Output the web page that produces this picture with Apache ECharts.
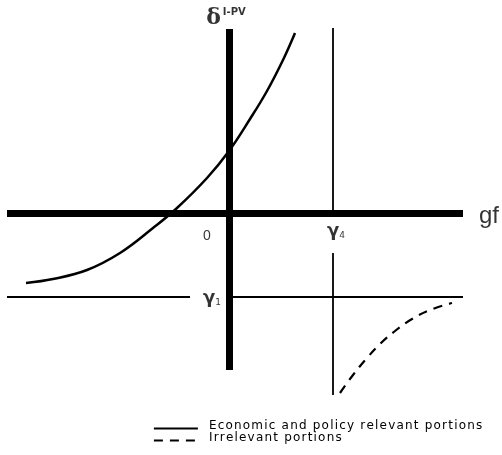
<!DOCTYPE html>
<html>
<head>
<meta charset="utf-8">
<script src="https://cdn.jsdelivr.net/npm/echarts@6/dist/echarts.min.js"></script>
<style>
  html, body { margin: 0; padding: 0; background: #fff; }
  #chart { width: 502px; height: 455px; }
</style>
</head>
<body>
<div id="chart"></div>
<script>
// Axis extents (gf horizontal, delta vertical), origin at the axis crossing
const xRange = [-222, 234];
const yRange = [-157, 184];

// Relevant branch of the delta curve
const curveX = [-203, -176, -142, -109, -76, -52, -22, 0, 21, 38, 54, 66];
const curveY = [-70, -66, -57, -40, -15, 5, 35, 62, 94, 122, 153, 180];

// Irrelevant branch right of gamma4
const dashX = [111, 124, 138, 151, 166, 183, 201, 223];
const dashY = [-180, -162, -145, -131, -118, -106, -97, -90];

// Critical values
const gamma4 = 104;   // vertical asymptote on gf
const gamma1 = -84;   // horizontal asymptote on delta

// Segments of the asymptote lines (split around their labels)
const gamma4Upper = [185, 0];
const gamma4Lower = [-40, -182];
const gamma1Left = [-222, -39];
const gamma1Right = [0, 234];

const legendNames = ['Economic and policy relevant portions', 'Irrelevant portions'];

const zip = (xs, ys) => xs.map((x, i) => [x, ys[i]]);

const thin = { color: '#000', width: 1.8 };
const plain = (data) => ({
  type: 'line', data, symbol: 'none', clip: false, silent: true,
  lineStyle: thin, itemStyle: { color: '#000' }, z: 3
});

// widely tracked legend lettering: one rich token per character
const tracked = (s) => s.split('').map(ch => '{c|' + ch + '}').join('');

const chart = echarts.init(document.getElementById('chart'));
chart.setOption({
  animation: false,
  backgroundColor: '#fff',
  grid: { left: 7, right: 39, top: 29, bottom: 85 },
  xAxis: {
    type: 'value', min: xRange[0], max: xRange[1],
    axisLine: { onZero: true, lineStyle: { color: '#000', width: 7, cap: 'butt' } },
    axisTick: { show: false }, axisLabel: { show: false }, splitLine: { show: false }
  },
  yAxis: {
    type: 'value', min: yRange[0], max: yRange[1],
    axisLine: { onZero: true, lineStyle: { color: '#000', width: 7, cap: 'butt' } },
    axisTick: { show: false }, axisLabel: { show: false }, splitLine: { show: false }
  },
  legend: {
    orient: 'vertical', left: 153, top: 420, padding: 0,
    itemWidth: 44, itemHeight: 4, itemGap: 0,
    data: legendNames,
    lineStyle: { width: 1.8 },
    itemStyle: { opacity: 0 },
    formatter: tracked,
    textStyle: {
      color: '#000', padding: [0, 0, 0, 6],
      rich: { c: { fontFamily: 'DejaVu Sans', fontSize: 12, color: '#000', padding: [0, 1.2, 5, 0] } }
    }
  },
  series: [
    {
      name: legendNames[0], type: 'line', data: zip(curveX, curveY),
      smooth: 0.4, symbol: 'none', clip: false,
      itemStyle: { color: '#000' },
      lineStyle: { color: '#000', width: 2.5 }, z: 4
    },
    {
      name: legendNames[1], type: 'line', data: zip(dashX, dashY),
      smooth: 0.4, symbol: 'none', clip: false,
      itemStyle: { color: '#000' },
      lineStyle: { color: '#000', width: 2.2, type: [9, 7] }, z: 4
    },
    plain(gamma4Upper.map(y => [gamma4, y])),
    plain(gamma4Lower.map(y => [gamma4, y])),
    plain(gamma1Left.map(x => [x, gamma1])),
    plain(gamma1Right.map(x => [x, gamma1])),
    {
      type: 'scatter', symbolSize: 0, clip: false, silent: true, z: 5,
      itemStyle: { color: '#000' },
      label: {
        show: true, position: 'inside', color: '#000', textBorderWidth: 0,
        formatter: p => p.data.text,
        rich: {
          d: { fontFamily: 'DejaVu Serif', fontWeight: 'bold', fontSize: 22, color: '#000', textBorderWidth: 0 },
          sup: { fontFamily: 'DejaVu Sans', fontWeight: 'bold', fontSize: 10, color: '#000', textBorderWidth: 0, verticalAlign: 'top', padding: [0, 0, 8, 2] },
          g: { fontFamily: 'DejaVu Sans', fontWeight: 'bold', fontSize: 18, color: '#000', textBorderWidth: 0 },
          sub: { fontFamily: 'DejaVu Sans', fontSize: 9, color: '#000', textBorderWidth: 0, padding: [10, 0, 0, 0] },
          z: { fontFamily: 'Liberation Sans', fontSize: 14, color: '#000', textBorderWidth: 0 },
          big: { fontFamily: 'Liberation Sans', fontSize: 24, color: '#000', textBorderWidth: 0 }
        }
      },
      data: [
        { value: [-3, 195], text: '{d|δ}{sup|I-PV}' },
        { value: [gamma4 + 3, -18], text: '{g|γ}{sub|4}' },
        { value: [-17, gamma1 - 1], text: '{g|γ}{sub|1}' },
        { value: [-22, -23], text: '{z|0}' },
        { value: [260, -3], text: '{big|gf}' }
      ]
    }
  ]
});
</script>
</body>
</html>
